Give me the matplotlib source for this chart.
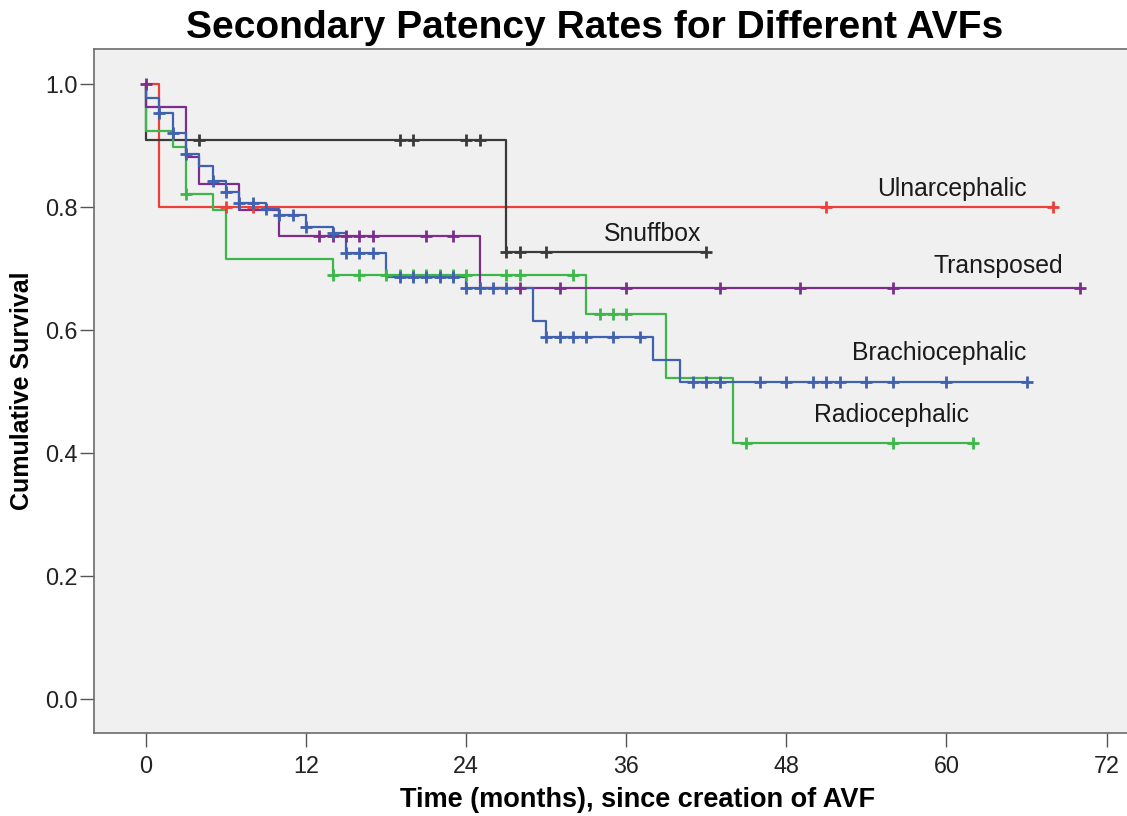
import numpy as np
import matplotlib
matplotlib.use("Agg")
from matplotlib import pyplot as plt

plt.rcParams['font.family'] = ['Liberation Sans', 'DejaVu Sans']

# Kaplan-Meier steps: drop times and survival after each drop (start at t=0, S=1)
brachio_times = [0, 0, 1, 2, 3, 4, 5, 6, 7, 9, 10, 12, 14, 15, 18, 24, 29, 30, 38, 40]
brachio_surv = [1.0, 0.977, 0.953, 0.920, 0.886, 0.866, 0.843, 0.825, 0.807, 0.797,
                0.787, 0.767, 0.757, 0.725, 0.687, 0.668, 0.615, 0.588, 0.551, 0.515]
brachio_end = 66
brachio_cens = [1, 2, 3, 5, 6, 7, 8, 9, 10, 11, 12, 14, 15, 16, 17, 19, 20, 21, 22, 23,
                24, 25, 26, 27, 30, 31, 32, 33, 35, 37, 41, 42, 43, 46, 48, 50, 51, 52,
                54, 56, 60, 66]

radio_times = [0, 0, 2, 3, 5, 6, 14, 33, 39, 44]
radio_surv = [1.0, 0.924, 0.898, 0.821, 0.795, 0.715, 0.689, 0.626, 0.522, 0.417]
radio_end = 62
radio_cens = [3, 14, 16, 18, 19, 20, 21, 22, 23, 24, 27, 28, 32, 34, 35, 36, 45, 56, 62]

trans_times = [0, 0, 3, 4, 7, 10, 25]
trans_surv = [1.0, 0.962, 0.881, 0.838, 0.795, 0.753, 0.669]
trans_end = 70
trans_cens = [0, 13, 14, 15, 16, 17, 21, 23, 28, 31, 36, 43, 49, 56, 70]

ulnar_times = [0, 1]
ulnar_surv = [1.0, 0.80]
ulnar_end = 68
ulnar_cens = [6, 8, 51, 68]

snuff_times = [0, 0, 27]
snuff_surv = [1.0, 0.909, 0.727]
snuff_end = 42
snuff_cens = [4, 19, 20, 24, 25, 27, 28, 30, 42]

xticks = [0, 12, 24, 36, 48, 60, 72]
yticks = [0.0, 0.2, 0.4, 0.6, 0.8, 1.0]

curves = [
    ("Ulnarcephalic", ulnar_times, ulnar_surv, ulnar_end, ulnar_cens, '#EC3F3A', (54.8, 0.829)),
    ("Snuffbox", snuff_times, snuff_surv, snuff_end, snuff_cens, '#3A3A3A', (34.3, 0.756)),
    ("Radiocephalic", radio_times, radio_surv, radio_end, radio_cens, '#3DB64A', (50.1, 0.462)),
    ("Transposed", trans_times, trans_surv, trans_end, trans_cens, '#7D2E8C', (59.0, 0.704)),
    ("Brachiocephalic", brachio_times, brachio_surv, brachio_end, brachio_cens, '#4060B0', (52.9, 0.563)),
]


def surv_at(times, surv, t):
    if t == 0:
        return 1.0
    i = np.searchsorted(times, t, side='right') - 1
    return surv[i]


fig = plt.figure(figsize=(11.27, 8.16), dpi=100)
ax = fig.add_axes([94 / 1127, 83 / 816, 1.002 - 94 / 1127, 684 / 816])
ax.set_facecolor('#F0F0F0')

for name, times, surv, end, cens, color, (lx, ly) in curves:
    xs = list(times) + [end]
    ys = list(surv) + [surv[-1]]
    ax.step(xs, ys, where='post', color=color, lw=1.6, zorder=3)
    cy = [surv_at(times, surv, c) for c in cens]
    ax.plot(cens, cy, ls='none', marker='+', ms=9, mew=2, color=color, zorder=4)
    ax.text(lx, ly, name, fontsize=17.8, color='#1a1a1a', ha='left', va='center')

ax.set_xlim(-3.9, 73.7)
ax.set_ylim(-0.0553, 1.057)
ax.set_xticks(xticks)
ax.set_yticks(yticks)
ax.set_xticklabels([str(x) for x in xticks])
ax.set_yticklabels([f"{y:.1f}" for y in yticks])
ax.tick_params(direction='out', length=10, width=1, color='#555555',
               labelsize=16.8, labelcolor='#222222')
ax.tick_params(axis='x', pad=6)
ax.tick_params(axis='y', pad=2)
for s in ax.spines.values():
    s.set_color('#6b6b6b')
    s.set_linewidth(1.2)

ax.set_ylabel("Cumulative Survival", fontsize=18, fontweight='bold', labelpad=8)
fig.text(638 / 1127, 0.011, "Time (months), since creation of AVF", fontsize=19.5,
         fontweight='bold', ha='center', va='baseline')

fig.text(0.528, 0.953, "Secondary Patency Rates for Different AVFs",
         fontsize=28.1, fontweight='bold', ha='center', va='baseline')

fig.savefig("out.png", dpi=100)
